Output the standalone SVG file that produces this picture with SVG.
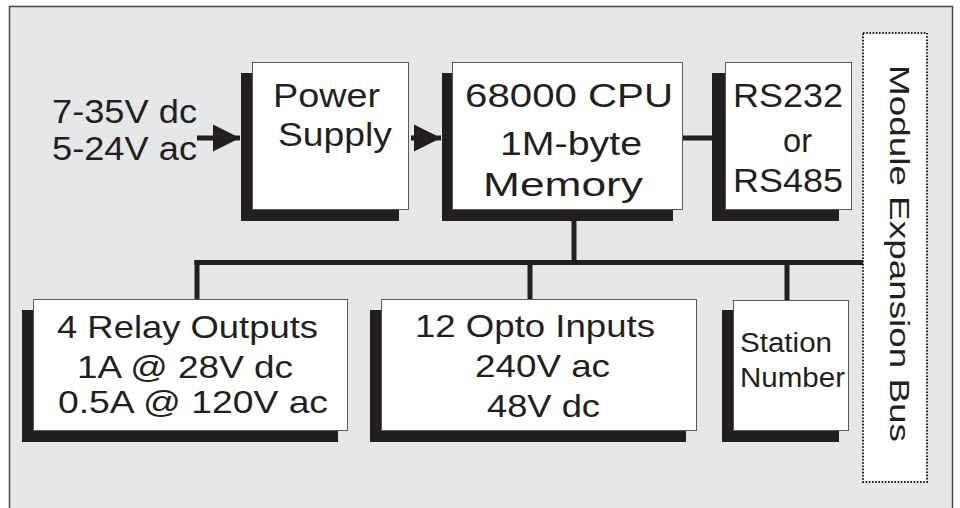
<svg xmlns="http://www.w3.org/2000/svg" width="960" height="508" viewBox="0 0 960 508">
<defs>
<style>
.frame{fill:#e6e7e9;stroke:#4a4a4a;stroke-width:1.5}
.shadow{fill:#231f20}
.box{fill:#ffffff;stroke:#5a5a5a;stroke-width:1}
.bus{fill:#ffffff;stroke:#231f20;stroke-width:2;stroke-dasharray:1.6 1.6}
.wire{stroke:#231f20;stroke-width:5;fill:none}
.t{font-family:"Liberation Sans",Arial,Helvetica,sans-serif;fill:#231f20}
.big{font-size:34px}
.mid{font-size:32px}
.sm{font-size:27px}
</style>
<marker id="ah" viewBox="0 0 10 10" refX="10" refY="5" markerWidth="5.4" markerHeight="6" markerUnits="strokeWidth" orient="auto">
<path d="M0,0 L10,5 L0,10 Z" fill="#231f20"/>
</marker>
</defs>

<rect class="frame" x="9.5" y="6.5" width="943" height="530"/>

<g id="connectors">
<line class="wire" x1="197" y1="138" x2="240" y2="138" marker-end="url(#ah)"/>
<line class="wire" x1="411" y1="138" x2="441" y2="138" marker-end="url(#ah)"/>
<line class="wire" x1="683" y1="138" x2="713" y2="138"/>
<line class="wire" x1="574" y1="220" x2="574" y2="262.5"/>
<line class="wire" x1="194.5" y1="262.5" x2="866" y2="262.5"/>
<line class="wire" x1="197" y1="260" x2="197" y2="300"/>
<line class="wire" x1="530" y1="262" x2="530" y2="300"/>
<line class="wire" x1="787" y1="262" x2="787" y2="301"/>
</g>

<g id="input">
<text class="t big" x="52" y="123" textLength="145" lengthAdjust="spacingAndGlyphs">7-35V dc</text>
<text class="t big" x="52" y="160" textLength="145" lengthAdjust="spacingAndGlyphs">5-24V ac</text>
</g>

<g id="power-supply">
<rect class="shadow" x="241" y="73" width="158" height="148"/>
<rect class="box" x="252.5" y="62.5" width="156" height="147"/>
<text class="t big" x="273" y="107" textLength="107" lengthAdjust="spacingAndGlyphs">Power</text>
<text class="t big" x="278" y="146" textLength="114" lengthAdjust="spacingAndGlyphs">Supply</text>
</g>

<g id="cpu">
<rect class="shadow" x="442" y="73" width="231" height="148"/>
<rect class="box" x="452.5" y="62.5" width="230" height="147"/>
<text class="t big" x="465" y="107" textLength="208" lengthAdjust="spacingAndGlyphs">68000 CPU</text>
<text class="t big" x="500" y="155" textLength="142" lengthAdjust="spacingAndGlyphs">1M-byte</text>
<text class="t big" x="483" y="196" textLength="160" lengthAdjust="spacingAndGlyphs">Memory</text>
</g>

<g id="serial">
<rect class="shadow" x="712" y="73" width="127" height="148"/>
<rect class="box" x="725.5" y="62.5" width="126" height="147"/>
<text class="t big" x="733" y="107" textLength="110" lengthAdjust="spacingAndGlyphs">RS232</text>
<text class="t big" x="783" y="152" textLength="29" lengthAdjust="spacingAndGlyphs">or</text>
<text class="t big" x="733" y="192" textLength="110" lengthAdjust="spacingAndGlyphs">RS485</text>
</g>

<g id="expansion-bus">
<rect class="bus" x="863" y="33" width="64" height="449"/>
<text class="t sm" transform="translate(890,65) rotate(90)" x="0" y="0" textLength="377" lengthAdjust="spacingAndGlyphs">Module Expansion Bus</text>
</g>

<g id="relay-outputs">
<rect class="shadow" x="22" y="310" width="316" height="132"/>
<rect class="box" x="33.5" y="299.5" width="314" height="131"/>
<text class="t mid" x="57" y="338" textLength="261" lengthAdjust="spacingAndGlyphs">4 Relay Outputs</text>
<text class="t mid" x="77" y="378" textLength="216" lengthAdjust="spacingAndGlyphs">1A @ 28V dc</text>
<text class="t mid" x="58" y="413" textLength="270" lengthAdjust="spacingAndGlyphs">0.5A @ 120V ac</text>
</g>

<g id="opto-inputs">
<rect class="shadow" x="370" y="310" width="316" height="132"/>
<rect class="box" x="381.5" y="299.5" width="315" height="131"/>
<text class="t mid" x="415" y="337" textLength="240" lengthAdjust="spacingAndGlyphs">12 Opto Inputs</text>
<text class="t mid" x="475" y="377" textLength="135" lengthAdjust="spacingAndGlyphs">240V ac</text>
<text class="t mid" x="487" y="417" textLength="113" lengthAdjust="spacingAndGlyphs">48V dc</text>
</g>

<g id="station-number">
<rect class="shadow" x="722" y="310" width="117" height="132"/>
<rect class="box" x="733.5" y="300.5" width="115" height="130"/>
<text class="t sm" x="740" y="352" textLength="92" lengthAdjust="spacingAndGlyphs">Station</text>
<text class="t sm" x="740" y="387" textLength="105" lengthAdjust="spacingAndGlyphs">Number</text>
</g>
</svg>
